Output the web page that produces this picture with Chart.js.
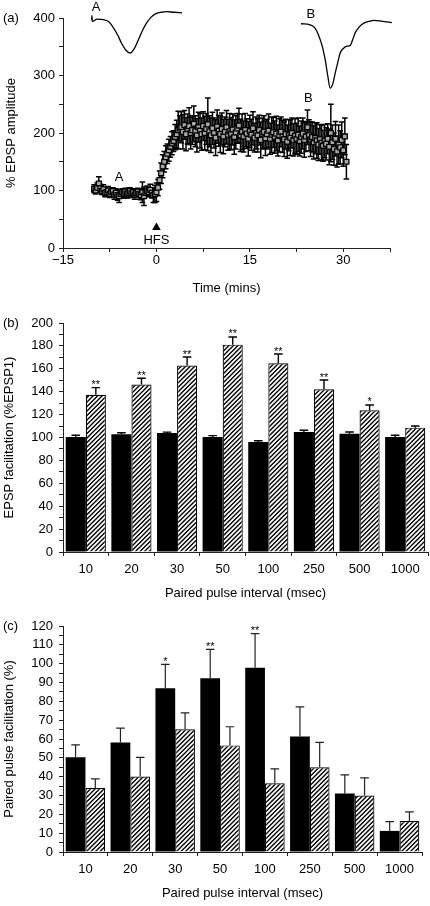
<!DOCTYPE html>
<html>
<head>
<meta charset="utf-8">
<script src="https://cdn.jsdelivr.net/npm/chart.js@4.4.0/dist/chart.umd.min.js"></script>
<style>
  body { margin: 0; background: #fff; width: 430px; height: 906px; position: relative; overflow: hidden; }
  canvas { position: absolute; left: 0; }
  #ltp { top: 0; }
  #ppf { top: 300px; }
  #ppfPct { top: 605px; }
</style>
</head>
<body>
<canvas id="ltp" width="430" height="300"></canvas>
<canvas id="ppf" width="430" height="305"></canvas>
<canvas id="ppfPct" width="430" height="301"></canvas>
<script>
// ---- (a) LTP time course: one sample every 15 s starting at -10 min
const ltpStart = -10;
const ltpStep = 0.25;
const ltpMean = [
  103, 100, 105, 112, 104, 99, 102, 96, 97, 100,
  94, 97, 99, 93, 96, 92, 90, 94, 97, 95,
  98, 94, 96, 99, 95, 97, 93, 96, 98, 94,
  92, 97, 90, 96, 99, 97, 101, 96, 92, 94,
  97,
  105, 118, 130, 142, 150, 158, 164, 170, 176, 182, 186, 193, 198, 205, 208,
  210, 202, 214, 198, 207, 212, 200, 205, 216, 203, 196, 210, 204, 198, 212, 200, 207,
  215, 203, 196, 208, 200, 192, 211, 204, 198, 207, 194, 202, 210, 197, 203, 199,
  206, 193, 201, 208, 213, 196, 202, 194, 205, 199, 190, 203, 197, 208, 192, 200,
  196, 205, 188, 199, 202, 191, 198, 204, 190, 197, 201, 193, 199, 187, 196, 202,
  194, 189, 198, 185, 196, 192, 200, 188, 195, 190, 197, 186, 193, 199, 188, 194,
  210, 196, 189, 193, 184, 191, 187, 180, 189, 183, 178, 186, 181, 190, 176, 200,
  184, 172, 190, 168, 180, 175, 188, 170, 194, 150
];
const ltpSem = [
  7, 6, 8, 12, 7, 6, 8, 7, 6, 7,
  6, 7, 6, 8, 7, 9, 11, 7, 6, 8,
  6, 7, 8, 6, 7, 6, 8, 7, 6, 9,
  8, 18, 16, 7, 9, 8, 10, 9, 13, 15,
  16,
  14, 16, 18, 20, 18, 20, 17, 19, 18, 20, 18, 22, 24, 33, 22,
  27, 30, 25, 29, 26, 32, 28, 25, 31, 27, 29, 26, 30, 28, 25, 29, 27,
  46, 27, 30, 28, 26, 31, 29, 27, 32, 28, 30, 26, 29, 27, 31, 28,
  27, 30, 29, 26, 30, 28, 31, 27, 29, 26, 30, 28, 27, 29, 25, 28,
  29, 26, 31, 27, 28, 30, 26, 29, 27, 31, 26, 28, 30, 27, 29, 26,
  28, 30, 26, 29, 27, 31, 26, 28, 30, 27, 29, 26, 28, 27, 30, 26,
  30, 27, 30, 26, 29, 27, 31, 28, 26, 30, 27, 29, 28, 26, 31, 50,
  30, 28, 30, 27, 34, 29, 31, 28, 32, 30
];
// sample EPSP traces drawn in the same axes (time, % units)
const traceATime = [-10.5, -10.4, -10.35, -10.3, -9.5, -8.5, -7.6, -6.9, -6.2, -5.6, -4.9, -4.2, -3.6, -2.9, -2.2, -1.6, -0.8, 0.0, 0.8, 1.6, 2.8, 4.1];
const traceAVal  = [398, 398, 404, 394, 398, 397, 393, 383, 370, 356, 344, 339, 346, 362, 379, 391, 402, 408, 410, 411, 410, 409];
const traceBTime = [23.2, 24.7, 25.5, 26.0, 26.6, 27.1, 27.5, 27.9, 28.3, 28.7, 29.1, 29.5, 30.0, 30.6, 31.1, 31.5, 31.9, 32.6, 33.3, 34.1, 34.9, 36.3, 37.8];
const traceBVal  = [390, 388, 382, 371, 352, 327, 300, 278, 285, 304, 322, 339, 347, 351, 352, 362, 374, 385, 391, 394, 396, 394, 392];

// ---- (b) and (c) paired pulse data
const intervals = ['10', '20', '30', '50', '100', '250', '500', '1000'];
const epspCtrl    = [100.4, 102.8, 103.9, 100.4, 96.1, 104.8, 103.3, 100.4];
const epspCtrlErr = [1.5, 1.4, 0.8, 1.2, 1.1, 1.5, 1.5, 1.5];
const epspPP      = [137.4, 146.2, 162.8, 181.1, 164.8, 142.1, 123.8, 108.6];
const epspPPErr   = [6.2, 5.5, 7.5, 6.7, 8.1, 8.1, 4.6, 1.4];
const epspStars   = ['**', '**', '**', '**', '**', '**', '*', ''];

const ppfBefore    = [50.3, 58.2, 86.9, 92.2, 97.8, 61.3, 31.0, 11.2];
const ppfBeforeErr = [6.6, 7.6, 12.7, 15.4, 18.1, 15.8, 10.0, 4.9];
const ppfAfter     = [34.0, 40.1, 65.2, 56.6, 36.5, 45.0, 30.0, 16.5];
const ppfAfterErr  = [4.8, 10.1, 8.7, 9.9, 7.6, 13.2, 9.4, 4.8];
const ppfStars     = ['', '', '*', '**', '**', '', '', ''];

Chart.defaults.font.family = '"Liberation Sans", Arial, sans-serif';
Chart.defaults.font.size = 13;
Chart.defaults.color = '#000';

const FONT = '"Liberation Sans", Arial, sans-serif';

function hatch() {
  const c = document.createElement('canvas');
  c.width = 9; c.height = 9;
  const g = c.getContext('2d');
  g.fillStyle = '#fff';
  g.fillRect(0, 0, 9, 9);
  g.strokeStyle = '#000';
  g.lineWidth = 1.4;
  g.beginPath();
  for (let k = 0; k <= 18; k += 4.5) {
    g.moveTo(k - 10, 10);
    g.lineTo(k + 1, -1);
  }
  g.stroke();
  return g.createPattern(c, 'repeat');
}

function drawErrors(chart) {
  const ctx = chart.ctx;
  const ys = chart.scales.y;
  chart.data.datasets.forEach((ds, i) => {
    if (!ds.errors) return;
    const meta = chart.getDatasetMeta(i);
    ctx.save();
    ctx.strokeStyle = ds.errorColor || '#000';
    ctx.lineWidth = ds.errorWidth || 1;
    ctx.fillStyle = '#000';
    ctx.font = '11px ' + FONT;
    ctx.textAlign = 'center';
    ctx.textBaseline = 'alphabetic';
    meta.data.forEach((el, j) => {
      const d = ds.data[j];
      const val = typeof d === 'object' ? d.y : d;
      const e = ds.errors[j];
      const x = el.x;
      const h = ds.capHalf || 4;
      const top = ys.getPixelForValue(val + e);
      const bot = ys.getPixelForValue(ds.errorBoth ? val - e : val);
      ctx.beginPath();
      ctx.moveTo(x, bot); ctx.lineTo(x, top);
      ctx.moveTo(x - h, top); ctx.lineTo(x + h, top);
      if (ds.errorBoth) { ctx.moveTo(x - h, bot); ctx.lineTo(x + h, bot); }
      ctx.stroke();
      if (ds.stars && ds.stars[j]) ctx.fillText(ds.stars[j], x, top + 0.5);
    });
    ctx.restore();
  });
}

const errorBars = {
  id: 'errorBars',
  beforeDatasetsDraw(chart, args, opts) { if (opts.behind) drawErrors(chart); },
  afterDatasetsDraw(chart, args, opts) { if (!opts.behind) drawErrors(chart); }
};

const panelLabel = {
  id: 'panelLabel',
  afterDraw(chart, args, opts) {
    const ctx = chart.ctx;
    ctx.save();
    ctx.font = '13px ' + FONT;
    ctx.fillStyle = '#000';
    ctx.textAlign = 'left';
    ctx.textBaseline = 'middle';
    ctx.fillText(opts.text, 3, chart.chartArea.top);
    ctx.restore();
  }
};

// text notes on panel (a), placed in data units
const ltpNotes = [
  { text: 'A', t: -9.7, v: 418 },
  { text: 'B', t: 24.8, v: 406 },
  { text: 'A', t: -6.0, v: 122 },
  { text: 'B', t: 24.4, v: 261 },
  { text: 'HFS', t: 0, v: 14 }
];
const ltpAnnot = {
  id: 'ltpAnnot',
  afterDraw(chart) {
    const { ctx, scales: { x, y } } = chart;
    ctx.save();
    ctx.font = '13px ' + FONT;
    ctx.fillStyle = '#000';
    ctx.textAlign = 'center';
    ctx.textBaseline = 'middle';
    ltpNotes.forEach(n => ctx.fillText(n.text, x.getPixelForValue(n.t), y.getPixelForValue(n.v)));
    // HFS arrowhead
    const ax = x.getPixelForValue(0);
    const tip = y.getPixelForValue(44.5), base = y.getPixelForValue(31.5);
    ctx.beginPath();
    ctx.moveTo(ax, tip);
    ctx.lineTo(ax - 4.3, base);
    ctx.lineTo(ax + 4.3, base);
    ctx.closePath();
    ctx.fill();
    ctx.restore();
  }
};

function axisStyle(extra) {
  return Object.assign({
    grid: { drawOnChartArea: false, tickLength: 4, color: '#222', lineWidth: 1 },
    border: { display: true, color: '#222', width: 1 }
  }, extra);
}

// ---------- (a)
const ltpTimes = ltpMean.map((_, i) => ltpStart + i * ltpStep);
new Chart(document.getElementById('ltp'), {
  type: 'scatter',
  data: {
    datasets: [
      {
        data: ltpTimes.map((t, i) => ({ x: t, y: ltpMean[i] })),
        errors: ltpSem, errorBoth: true, capHalf: 2.8, errorWidth: 1.5, errorColor: '#000',
        pointStyle: 'rect', pointRadius: 3.5, backgroundColor: '#a8a8a8', borderColor: '#000', borderWidth: 1.3
      },
      {
        data: traceATime.map((t, i) => ({ x: t, y: traceAVal[i] })),
        showLine: true, pointRadius: 0, borderColor: '#000', borderWidth: 1.3,
        cubicInterpolationMode: 'monotone', clip: false
      },
      {
        data: traceBTime.map((t, i) => ({ x: t, y: traceBVal[i] })),
        showLine: true, pointRadius: 0, borderColor: '#000', borderWidth: 1.3,
        cubicInterpolationMode: 'monotone', clip: false
      }
    ]
  },
  options: {
    animation: false, responsive: false, devicePixelRatio: 1,
    layout: { padding: { top: 18, right: 40, left: 0, bottom: 0 } },
    plugins: { legend: { display: false }, tooltip: { enabled: false }, errorBars: { behind: true }, panelLabel: { text: '(a)' } },
    scales: {
      x: axisStyle({
        type: 'linear', min: -15, max: 37.5,
        ticks: { stepSize: 7.5, autoSkip: false, maxRotation: 0, padding: 1,
          callback: v => (v % 15 === 0 ? (v < 0 ? '\u2212' + Math.abs(v) : String(v)) : '') },
        title: { display: true, text: 'Time (mins)', padding: { top: 0, bottom: 4 } },
        afterFit: s => { s.height = 52; }
      }),
      y: axisStyle({
        min: 0, max: 400,
        ticks: { stepSize: 50, autoSkip: false, padding: 4, callback: v => (v % 100 === 0 ? v : '') },
        title: { display: true, text: '% EPSP amplitude', padding: { top: 4, bottom: 0 } },
        afterFit: s => { s.width = 63; }
      })
    }
  },
  plugins: [errorBars, ltpAnnot, panelLabel]
});

// ---------- (b) and (c)
function barPanel(id, label, rows, yMax, yStep, yLabelStep, yTitle, dims) {
  return new Chart(document.getElementById(id), {
    type: 'bar',
    data: {
      labels: intervals,
      datasets: rows
    },
    options: {
      animation: false, responsive: false, devicePixelRatio: 1,
      layout: { padding: { top: dims.top, right: dims.right, left: 0, bottom: 0 } },
      plugins: { legend: { display: false }, tooltip: { enabled: false }, errorBars: { behind: false }, panelLabel: { text: label } },
      scales: {
        x: axisStyle({
          ticks: { padding: 6, maxRotation: 0, autoSkip: false },
          grid: { drawOnChartArea: false, tickLength: 4, color: '#222', offset: true },
          title: { display: true, text: 'Paired pulse interval (msec)', padding: { top: 0, bottom: dims.titleBottom } },
          afterFit: s => { s.height = dims.xHeight; }
        }),
        y: axisStyle({
          min: 0, max: yMax,
          ticks: { stepSize: yStep, autoSkip: false, padding: 6, callback: v => (v % yLabelStep === 0 ? v : '') },
          title: { display: true, text: yTitle, padding: { top: 2, bottom: 0 } },
          afterFit: s => { s.width = 63; }
        })
      }
    },
    plugins: [errorBars, panelLabel]
  });
}

const barCommon = { categoryPercentage: 0.88, barPercentage: 1.0 };
const pattern = hatch();

barPanel('ppf', '(b)', [
  Object.assign({ data: epspCtrl, errors: epspCtrlErr, backgroundColor: '#000', borderColor: '#000', borderWidth: 0, errorWidth: 1.4, capHalf: 4.3 }, barCommon),
  Object.assign({ data: epspPP, errors: epspPPErr, stars: epspStars, backgroundColor: pattern, borderColor: '#000', borderWidth: 1.2, errorWidth: 1.4, capHalf: 4.3 }, barCommon)
], 200, 10, 20, 'EPSP facilitation (%EPSP1)', { top: 23, right: 2, xHeight: 53, titleBottom: 4 });

barPanel('ppfPct', '(c)', [
  Object.assign({ data: ppfBefore, errors: ppfBeforeErr, stars: ppfStars, backgroundColor: '#000', borderColor: '#000', borderWidth: 0, errorWidth: 1.2, errorColor: '#222', capHalf: 4.3 }, barCommon),
  Object.assign({ data: ppfAfter, errors: ppfAfterErr, backgroundColor: pattern, borderColor: '#000', borderWidth: 1.2, errorWidth: 1.2, errorColor: '#222', capHalf: 4.3 }, barCommon)
], 120, 5, 10, 'Paired pulse facilitation (%)', { top: 21, right: 8, xHeight: 54, titleBottom: 5 });
</script>
</body>
</html>
